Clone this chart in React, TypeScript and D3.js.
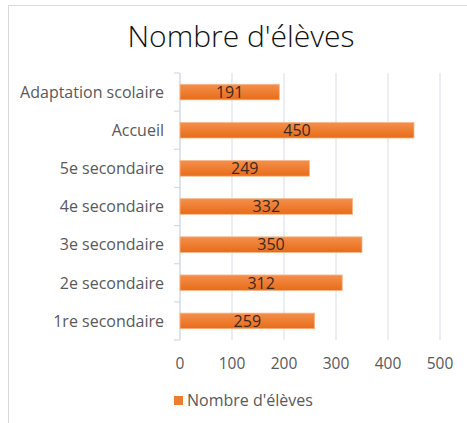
import React from 'react';
import * as d3 from 'd3';

const categories = [
  'Adaptation scolaire',
  'Accueil',
  '5e secondaire',
  '4e secondaire',
  '3e secondaire',
  '2e secondaire',
  '1re secondaire',
];
const values = [191, 450, 249, 332, 350, 312, 259];
const xTicks = [0, 100, 200, 300, 400, 500];
const seriesName = "Nombre d'élèves";

const font = "'Open Sans', 'Noto Sans', sans-serif";

const App: React.FC = () => {
  const width = 467;
  const height = 423;
  const plot = { left: 180, right: 440, top: 73, bottom: 340 };

  const x = d3.scaleLinear().domain([0, 500]).range([plot.left, plot.right]);
  const y = d3
    .scaleBand<string>()
    .domain(categories)
    .range([plot.top, plot.bottom])
    .paddingInner(0.59)
    .paddingOuter(0.295);

  const step = y.step();

  return (
    <svg
      width={width}
      height={height}
      style={{ position: 'absolute', left: 0, top: 0, background: '#fff' }}
    >
      <defs>
        <linearGradient id="barFill" x1="0" y1="0" x2="0" y2="1">
          <stop offset="0%" stopColor="#f58f4c" />
          <stop offset="100%" stopColor="#e76c18" />
        </linearGradient>
      </defs>

      {/* chart frame */}
      <rect x={8.5} y={5.5} width={500} height={450} fill="#fff" stroke="#d9d9d9" />

      {/* title */}
      <text
        x={241}
        y={47}
        textAnchor="middle"
        fontFamily={font}
        fontSize={30}
        fontWeight={300}
        fill="#111"
      >
        {seriesName}
      </text>

      {/* gridlines */}
      {xTicks.map((t) => (
        <line
          key={t}
          x1={x(t)}
          x2={x(t)}
          y1={plot.top}
          y2={plot.bottom}
          stroke="#dde2ea"
          strokeWidth={1.2}
        />
      ))}

      {/* category axis */}
      <line x1={plot.left} x2={plot.left} y1={plot.top} y2={plot.bottom} stroke="#d6dbe4" strokeWidth={1.2} />
      {d3.range(categories.length + 1).map((i) => (
        <line
          key={i}
          x1={plot.left - 6}
          x2={plot.left}
          y1={plot.top + i * step}
          y2={plot.top + i * step}
          stroke="#d6dbe4"
          strokeWidth={1.2}
        />
      ))}

      {/* bars */}
      {categories.map((c, i) => {
        const y0 = y(c) as number;
        return (
          <g key={c}>
            <rect
              x={x(0)}
              y={y0}
              width={x(values[i]) - x(0)}
              height={y.bandwidth()}
              fill="url(#barFill)"
              stroke="#f7b98c"
              strokeWidth={0.8}
            />
            <text
              x={(x(0) + x(values[i])) / 2}
              y={y0 + y.bandwidth() / 2}
              dy="0.36em"
              textAnchor="middle"
              fontFamily={font}
              fontSize={16}
              fill="#3a2a20"
            >
              {values[i]}
            </text>
            <text
              x={164}
              y={y0 + y.bandwidth() / 2}
              dy="0.36em"
              textAnchor="end"
              fontFamily={font}
              fontSize={16}
              fill="#595959"
            >
              {c}
            </text>
          </g>
        );
      })}

      {/* x tick labels */}
      {xTicks.map((t) => (
        <text
          key={t}
          x={x(t)}
          y={363}
          dy="0.36em"
          textAnchor="middle"
          fontFamily={font}
          fontSize={15.5}
          fill="#595959"
        >
          {t}
        </text>
      ))}

      {/* legend */}
      <rect x={174} y={396} width={9} height={9} fill="#ed7d31" />
      <text x={187} y={400.5} dy="0.36em" fontFamily={font} fontSize={16} fill="#595959">
        {seriesName}
      </text>
    </svg>
  );
};

export default App;
